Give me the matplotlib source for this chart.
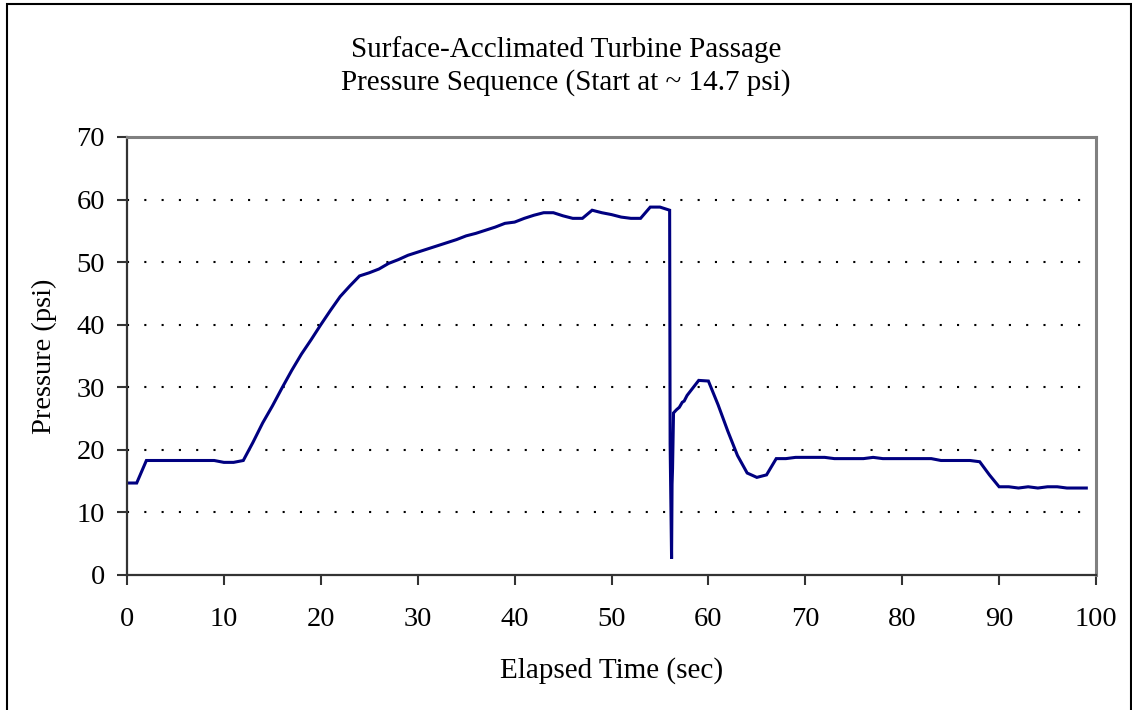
import matplotlib
matplotlib.use("Agg")
import matplotlib.pyplot as plt
from matplotlib.patches import Rectangle

# elapsed time (sec) and pressure (psi)
time_sec = [0, 1, 2, 3, 4, 5, 6, 7, 8, 9, 10, 11, 12, 13, 14, 15, 16, 17, 18, 19,
            20, 21, 22, 23, 24, 25, 26, 27, 28, 29, 30, 31, 32, 33, 34, 35, 36, 37, 38, 39,
            40, 41, 42, 43, 44, 45, 46, 47, 48, 49, 50, 51, 52, 53, 54, 55, 56,
            56.05, 56.2, 56.25, 56.3, 56.4, 56.7, 57, 57.3, 57.5, 57.8, 58, 59,
            60, 61, 62, 63, 64, 65, 66, 67, 68, 69, 70, 71, 72, 73, 74, 75, 76, 77, 78, 79,
            80, 81, 82, 83, 84, 85, 86, 87, 88, 89, 90, 91, 92, 93, 94, 95, 96, 97, 98, 99]
pressure = [14.7, 14.7, 18.3, 18.3, 18.3, 18.3, 18.3, 18.3, 18.3, 18.3, 18.0, 18.0, 18.3, 21.2,
            24.3, 27.0, 29.9, 32.7, 35.3, 37.6, 40.0, 42.3, 44.5, 46.2, 47.8, 48.3, 48.9, 49.8,
            50.4, 51.1, 51.6, 52.1, 52.6, 53.1, 53.6, 54.2, 54.6, 55.1, 55.6, 56.2, 56.4, 57.0,
            57.5, 57.9, 57.9, 57.4, 57.0, 57.0, 58.3, 57.9, 57.6, 57.2, 57.0, 57.0, 58.8, 58.8,
            58.3,
            21.0, 2.6, 14.5, 17.0, 25.9, 26.4, 26.8, 27.6, 27.8, 28.7, 29.1, 31.1,
            31.0, 27.2, 23.0, 19.1, 16.3, 15.6, 16.0, 18.6, 18.6, 18.8, 18.8, 18.8, 18.8, 18.6,
            18.6, 18.6, 18.6, 18.8, 18.6, 18.6, 18.6, 18.6, 18.6, 18.6, 18.3, 18.3, 18.3, 18.3,
            18.1, 16.0, 14.1, 14.1, 13.9, 14.1, 13.9, 14.1, 14.1, 13.9, 13.9, 13.9]

x_ticks = list(range(0, 101, 10))
y_ticks = list(range(0, 71, 10))

plt.rcParams['font.family'] = ['Liberation Serif', 'DejaVu Serif']

fig = plt.figure(figsize=(11.32, 7.10), dpi=100)
ax = fig.add_axes([127 / 1132, 1 - 575 / 710, (1096 - 127) / 1132, (575 - 137) / 710])

# outer chart frame
fig.patches.append(Rectangle((7 / 1132, -0.1), (1131 - 7) / 1132, 1.1 - 4 / 710,
                             transform=fig.transFigure, fill=False,
                             edgecolor='black', linewidth=1.5))

ax.plot(time_sec, pressure, color='#000080', linewidth=2.2, solid_joinstyle='miter')

ax.set_xlim(0, 100)
ax.set_ylim(0, 70)
ax.set_xticks(x_ticks)
ax.set_yticks(y_ticks)
ax.tick_params(axis='both', direction='out', length=7, width=1.5, labelsize=20.5,
               color='#333333')
ax.tick_params(axis='x', pad=16)
ax.tick_params(axis='y', pad=9)

for y in y_ticks[1:-1]:
    ax.axhline(y, color='black', linewidth=1.5, linestyle=(0, (1, 7.3)), zorder=0)

for side in ('left', 'bottom'):
    ax.spines[side].set_color('#333333')
    ax.spines[side].set_linewidth(1.6)
for side in ('top', 'right'):
    ax.spines[side].set_color('#808080')
    ax.spines[side].set_linewidth(2.2)

ax.set_xlabel('Elapsed Time (sec)', fontsize=21, labelpad=18)
ax.set_ylabel('Pressure (psi)', fontsize=20.5, labelpad=14)
fig.text(0.5, 1 - 66 / 710, 'Surface-Acclimated Turbine Passage\nPressure Sequence (Start at ~ 14.7 psi)',
         ha='center', va='center', fontsize=21, linespacing=1.3)

fig.savefig('out.png', dpi=100)
